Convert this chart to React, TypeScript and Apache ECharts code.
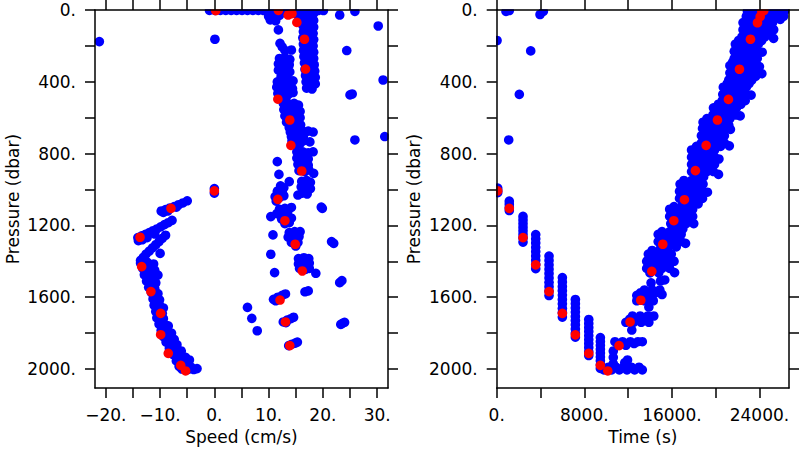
import React, { useEffect, useRef } from 'react';
import * as echarts from 'echarts';

// ---------- axis ticks / labels ----------
const speedTicks = [-20, -15, -10, -5, 0, 5, 10, 15, 20, 25, 30];
const speedLabels = [-20, -10, 0, 10, 20, 30];
const timeTicks = [0, 4000, 8000, 12000, 16000, 20000, 24000];
const timeLabels = [0, 8000, 16000, 24000];
const pressureTicks = [0, 200, 400, 600, 800, 1000, 1200, 1400, 1600, 1800, 2000];
const pressureLabels = [0, 400, 800, 1200, 1600, 2000];

// ---------- left panel: [speed (cm/s), pressure (dbar)] ----------
const speedSurface = [
  [-0.9, 2], [0.1, 2], [1.1, 2], [2.1, 2], [3.1, 2], [4.1, 2], [5.1, 2], [6.1, 2], [7.1, 2], [8.1, 2],
  [9.1, 3], [10.1, 3], [11.1, 4], [12.1, 3], [13.1, 4], [14.1, 3], [15.1, 4], [16.1, 3], [17.1, 3],
  [18.1, 4], [19.1, 3], [20.1, 3], [23.1, 28], [25.9, 8],
];
const speedAscentUpperLeft = [
  [10, 35], [11, 32], [12, 30], [10.3, 55], [11.3, 60], [11.8, 111], [12.1, 186], [12.5, 205], [13, 225], [14.2, 223],
  [12, 270], [13, 265], [13.9, 275], [11.8, 300], [12.8, 302], [13.8, 305], [11.8, 335], [12.9, 340], [13.9, 345],
  [12.3, 370], [13.4, 372],
  [11.6, 400], [12.6, 400], [13.6, 398], [14.5, 395], [11.5, 430], [12.5, 432], [13.5, 430], [14.4, 438],
  [11.7, 465], [12.7, 465], [13.7, 468], [14.5, 460], [12, 490], [13.2, 492],
  [12.7, 520], [13.7, 525], [14.7, 520], [15.5, 530], [12.8, 555], [13.8, 560], [14.8, 555], [15.8, 565],
  [13, 590], [14, 595], [15, 590], [15.8, 600], [13.3, 625], [14.3, 630], [15.2, 625], [15.9, 640],
  [13.8, 655], [14.8, 660], [15.7, 662],
];
const speedAscentUpperRight = [
  [14.5, 12], [15.8, 12], [17, 15], [18.3, 18], [15.5, 35], [16.8, 38], [18, 42], [16, 60], [17.2, 62], [18.3, 58],
  [16.3, 85], [17.4, 90], [18.3, 95], [16.4, 120], [17.3, 125], [18.2, 130], [16.3, 155], [17.4, 160], [18.3, 165],
  [16.4, 190], [17.3, 195], [18.2, 200], [16.4, 225], [17.4, 230], [18.3, 235], [16.5, 260], [17.4, 265], [18.3, 270],
  [16.6, 295], [17.5, 300], [18.4, 305], [16.7, 330], [17.6, 335], [18.5, 340], [16.8, 365], [17.7, 370], [18.6, 375],
  [16.9, 400], [17.8, 405], [18.6, 412], [17, 435], [18, 440],
];
const speedAscentMid = [
  [14, 680], [15.1, 675], [16.2, 672], [17.3, 675], [18.2, 680], [14.2, 705], [15.3, 705], [16.4, 705],
  [14.3, 730], [15.4, 735], [16.5, 728], [14.8, 750], [15.8, 745], [17.6, 735], [18.2, 790],
  [15.2, 790], [16.3, 790], [17.3, 795], [15.2, 825], [16.3, 825], [17.3, 830], [15.4, 860], [16.4, 860], [17.3, 865],
  [15.6, 895], [16.7, 900], [17.4, 890], [18.3, 910],
  [16.1, 955], [17, 950], [17.7, 960], [16, 985], [17, 990], [17.7, 995], [16.2, 1020], [17.1, 1025],
  [12.2, 980], [12.8, 990], [11.6, 1010], [12.5, 1012], [11.2, 1040], [12, 1045], [12.8, 1035], [11.4, 1065],
  [12, 1110], [13, 1105], [14.2, 1100], [11.5, 1135], [12.5, 1135], [13.5, 1130], [12.4, 1165], [13.5, 1165],
  [14.2, 1160], [13, 1190], [13.8, 1185],
  [13.8, 1240], [14.8, 1235], [15.8, 1235], [13.6, 1265], [14.6, 1265], [15.6, 1262], [14.2, 1295], [15.4, 1295], [15, 1315],
];
const speedAscentLower = [
  [15.5, 1385], [16.5, 1380], [17.4, 1385], [15.5, 1415], [16.5, 1415], [17.5, 1410], [15.7, 1440], [16.8, 1445], [17.5, 1440],
  [16.7, 1570], [17.3, 1565],
  [10.9, 1612], [11.7, 1600], [12.5, 1590], [13.1, 1582], [11.3, 1620],
  [12.7, 1738], [13.4, 1728], [14.1, 1720], [14.6, 1712], [13.2, 1742],
  [13.7, 1870], [14.3, 1862], [14.9, 1856], [15.3, 1850],
];
const speedDescent = [
  [-9.8, 1120], [-9, 1112], [-8.2, 1103], [-7.4, 1095], [-6.6, 1085], [-5.8, 1075], [-5, 1063], [-9.4, 1128], [-8.6, 1120], [-7, 1098],
  [-14.1, 1268], [-13.4, 1258], [-12.7, 1250], [-12, 1240], [-11.3, 1230], [-10.6, 1220], [-9.9, 1208], [-9.2, 1196],
  [-8.5, 1185], [-7.8, 1172], [-14, 1285], [-13.3, 1280], [-12.4, 1268], [-11, 1248],
  [-9, 1255], [-9.6, 1272], [-10.2, 1290], [-10.8, 1308], [-11.4, 1325], [-12, 1343], [-12.6, 1360], [-13.1, 1378], [-13.6, 1395],
  [-10, 1356],
  [-13.6, 1410], [-12.4, 1405], [-11.2, 1415], [-13.2, 1440], [-12, 1445], [-11, 1450], [-12.9, 1475], [-11.9, 1480], [-11, 1485],
  [-10.4, 1477], [-12.5, 1510], [-11.5, 1515], [-10.8, 1520], [-12.1, 1545], [-11, 1550], [-11.6, 1575], [-10.4, 1580],
  [-11.3, 1610], [-10.1, 1615], [-11.1, 1645], [-10, 1650], [-9.4, 1660], [-10.8, 1680], [-9.6, 1690], [-10.6, 1715], [-9.4, 1720],
  [-10.2, 1750], [-9.1, 1755], [-8.5, 1760], [-9.8, 1785], [-8.7, 1790], [-7.9, 1800], [-9.4, 1820], [-8.3, 1825], [-7.4, 1835],
  [-8.9, 1850], [-7.8, 1860], [-6.9, 1865], [-8.3, 1885], [-7.2, 1890], [-6.1, 1900], [-7.6, 1920], [-6.5, 1925], [-5.3, 1935],
  [-4.6, 1950], [-7, 1955], [-5.8, 1960], [-6.5, 1985], [-5.4, 1990], [-4.3, 1990], [-3.2, 1998], [-6, 2000], [-4.8, 2002], [-3.8, 2003],
];
const speedOutliers = [
  [-21.2, 176], [0.1, 163], [0, 995], [0, 1020], [24.4, 226], [30.2, 89], [31.1, 390], [25, 473], [25.4, 468],
  [25.9, 724], [31.4, 705], [11.6, 845], [11.9, 916], [13.8, 956], [15.4, 1031], [19.7, 1098], [19.9, 1105],
  [10.4, 1151], [10.8, 1253], [21.6, 1290], [22, 1300], [10.4, 1361], [11.1, 1463], [18.7, 1467], [23.1, 1519], [23.5, 1508],
  [6.1, 1657], [6.9, 1718], [7.9, 1787], [23.3, 1752], [23.6, 1746], [24, 1740],
];
const speedRed = [
  [0.26, 4], [11.8, 2], [13.6, 28], [14.3, 20], [15.2, 69], [16.6, 163], [16.8, 329], [11.7, 497], [13.9, 613],
  [14.1, 754], [16.1, 897], [0, 1008], [11.7, 1055], [-8, 1105], [13, 1174], [-13.7, 1266], [14.9, 1305],
  [-13.4, 1430], [16.2, 1454], [-11.7, 1569], [12.1, 1616], [-9.9, 1690], [13.1, 1738], [-9.9, 1809],
  [13.9, 1870], [-8.5, 1913], [-6.2, 1980], [-5.3, 2011],
];

// ---------- right panel: [time (s), pressure (dbar)] ----------
const timeAscent = [
  [22900, 5], [23600, 5], [24300, 5], [25000, 5], [25700, 5], [26300, 5],
  [22800, 35], [23500, 35], [24200, 35], [24900, 35], [25600, 35], [26200, 35],
  [22500, 70], [23200, 70], [23900, 70], [24600, 70], [25200, 70],
  [22500, 110], [23200, 110], [23900, 110], [24600, 110], [25300, 110],
  [22400, 150], [23100, 150], [23800, 150], [24500, 150], [25290, 158],
  [21800, 190], [22500, 190], [23200, 190], [23900, 190],
  [21700, 230], [22400, 230], [23100, 230], [23800, 230], [24250, 235],
  [21700, 270], [22400, 270], [23100, 270], [23800, 270],
  [21300, 310], [22000, 310], [22700, 310], [23400, 310], [24000, 315],
  [21300, 350], [22000, 350], [22700, 350], [23400, 350], [24220, 355],
  [21200, 390], [21900, 390], [22600, 390], [23300, 390],
  [20700, 430], [21400, 430], [22100, 430], [22800, 430],
  [20650, 470], [21350, 470], [22050, 470], [22750, 470], [23240, 474],
  [20600, 505], [21300, 505], [22000, 505], [22700, 505],
  [19800, 545], [20500, 545], [21200, 545], [21900, 545],
  [19750, 585], [20450, 585], [21150, 585], [21850, 585], [22240, 590],
  [18850, 625], [19550, 625], [20250, 625], [20950, 625],
  [18800, 660], [19500, 660], [20200, 660], [20900, 660], [21350, 665],
  [18700, 700], [19400, 700], [20100, 700], [20800, 700],
  [18700, 740], [19400, 740], [20100, 740], [20800, 740], [21250, 757],
  [17800, 780], [18500, 780], [19200, 780], [19900, 780],
  [17800, 820], [18500, 820], [19200, 820], [19900, 820], [20300, 830],
  [17800, 860], [18500, 860], [19200, 860], [19900, 860],
  [17800, 900], [18500, 900], [19200, 900], [19800, 900],
  [18200, 930], [18900, 930], [20260, 916],
  [16750, 970], [17450, 970], [18150, 970], [18850, 970],
  [16700, 1010], [17400, 1010], [18100, 1010], [18800, 1010], [19250, 1015],
  [16700, 1050], [17400, 1050], [18100, 1050], [18800, 1050],
  [17000, 1080], [17700, 1080], [18400, 1080],
  [15800, 1110], [16500, 1110], [17200, 1110], [17900, 1110],
  [15800, 1150], [16500, 1150], [17200, 1150], [17900, 1150],
  [15900, 1190], [16600, 1190], [17300, 1190], [18000, 1190],
  [16300, 1220], [17000, 1220],
  [14750, 1250], [15450, 1250], [16150, 1250], [16850, 1250],
  [14750, 1290], [15450, 1290], [16150, 1290], [16850, 1290], [17250, 1300],
  [15000, 1320], [15700, 1320], [16400, 1320],
  [13850, 1360], [14550, 1360], [15250, 1360], [15950, 1360],
  [13700, 1400], [14400, 1400], [15100, 1400], [15800, 1400], [16200, 1400],
  [13700, 1440], [14400, 1440], [15100, 1440], [15800, 1440],
  [14000, 1465], [14800, 1465], [16250, 1463],
  [15350, 1504], [14100, 1520], [14960, 1510],
  [13500, 1560], [14200, 1560], [14900, 1560],
  [12800, 1590], [13500, 1590], [14200, 1590], [15100, 1585],
  [12800, 1620], [13500, 1620], [14300, 1620],
  [13900, 1655],
  [12400, 1705], [13100, 1705], [13800, 1705], [14350, 1705],
  [11800, 1740], [12500, 1740], [13200, 1740], [13900, 1740],
  [12340, 1783],
  [10800, 1848], [11500, 1848], [12200, 1848], [12900, 1848], [13300, 1848],
  [11100, 1868], [11800, 1868],
  [10650, 1900], [10650, 1935], [10650, 1970], [11950, 1950], [11700, 1965],
  [9500, 1990], [10200, 1990], [10900, 1990], [11600, 1990], [12300, 1990], [13000, 1990],
  [9800, 2005], [10500, 2005], [11200, 2005], [11900, 2005], [12600, 2005], [13300, 2005],
];
// in-between readings that fill the ascent band
const timeAscentFill = [
  [23250, 20], [23950, 20], [24650, 20], [25350, 20], [26000, 20],
  [23150, 52], [23850, 52], [24550, 52], [25250, 52], [25900, 52],
  [22850, 90], [23550, 90], [24250, 90], [24950, 90],
  [22800, 130], [23500, 130], [24200, 130], [24900, 130],
  [22100, 170], [22800, 170], [23500, 170], [24200, 170],
  [22050, 210], [22750, 210], [23450, 210],
  [22050, 250], [22750, 250], [23450, 250],
  [21550, 290], [22250, 290], [22950, 290], [23650, 290],
  [21650, 330], [22350, 330], [23050, 330], [23750, 330],
  [21550, 370], [22250, 370], [22950, 370], [23650, 370],
  [21050, 410], [21750, 410], [22450, 410], [23050, 410],
  [21050, 450], [21750, 450], [22450, 450],
  [20950, 488], [21650, 488], [22350, 488],
  [20250, 525], [20950, 525], [21650, 525], [22300, 525],
  [20150, 565], [20850, 565], [21550, 565],
  [19200, 605], [19900, 605], [20600, 605], [21300, 605],
  [19200, 642], [19900, 642], [20600, 642], [21200, 642],
  [19150, 680], [19850, 680], [20550, 680],
  [19050, 720], [19750, 720], [20450, 720],
  [18250, 760], [19050, 760], [19750, 760], [20450, 760],
  [18150, 800], [18850, 800], [19550, 800],
  [18150, 840], [18850, 840], [19550, 840],
  [18150, 880], [18850, 880], [19550, 880],
  [17100, 950], [17800, 950], [18500, 950],
  [17100, 990], [17800, 990], [18500, 990],
  [17050, 1030], [17750, 1030], [18450, 1030],
  [16200, 1095], [16900, 1095], [17600, 1095],
  [16150, 1130], [16850, 1130], [17550, 1130],
  [16150, 1170], [16850, 1170], [17550, 1170],
  [15100, 1235], [15800, 1235], [16500, 1235],
  [15100, 1270], [15800, 1270], [16500, 1270],
  [14200, 1340], [14900, 1340], [15600, 1340],
  [14200, 1380], [14900, 1380], [15600, 1380],
  [14050, 1420], [14750, 1420], [15450, 1420],
  [13150, 1575], [13850, 1575], [14550, 1575],
  [13150, 1605], [13850, 1605],
  [12150, 1722], [12850, 1722], [13550, 1722],
  [12550, 1858],
];
const timeDescent = [
  [91, 992], [91, 1005], [91, 1018],
  [1150, 1065], [1150, 1082], [1150, 1100], [1150, 1117],
  [2404, 1150], [2404, 1170], [2404, 1190], [2404, 1210], [2404, 1230], [2404, 1250], [2404, 1270], [2404, 1293],
  [3565, 1251], [3565, 1275], [3565, 1298], [3565, 1322], [3565, 1346], [3565, 1370], [3565, 1394], [3565, 1418], [3565, 1441],
  [4780, 1371], [4780, 1395], [4780, 1420], [4780, 1444], [4780, 1468], [4780, 1493], [4780, 1517], [4780, 1542], [4780, 1566], [4780, 1591],
  [5998, 1491], [5998, 1515], [5998, 1540], [5998, 1564], [5998, 1588], [5998, 1613], [5998, 1637], [5998, 1662], [5998, 1686], [5998, 1711],
  [7186, 1613], [7186, 1636], [7186, 1660], [7186, 1683], [7186, 1707], [7186, 1730], [7186, 1753], [7186, 1777], [7186, 1800], [7186, 1823],
  [8409, 1724], [8409, 1746], [8409, 1769], [8409, 1791], [8409, 1814], [8409, 1836], [8409, 1858], [8409, 1880], [8409, 1903], [8409, 1925],
  [9470, 1825], [9470, 1847], [9470, 1868], [9470, 1890], [9470, 1911], [9470, 1933], [9470, 1954], [9470, 1976], [9470, 1997],
];
const timeOutliers = [
  [850, 8], [1150, 3], [3958, 25], [4260, 8], [30, 170], [3107, 228], [2066, 470], [1097, 724],
];
const timeRed = [
  [24400, 3], [24221, 9], [24066, 37], [23820, 71], [23180, 163], [22175, 330], [21170, 498], [20163, 613],
  [19130, 754], [18150, 895], [17147, 1057], [16178, 1174], [15172, 1305], [14167, 1456], [13160, 1617],
  [12184, 1738], [11178, 1870], [10145, 2011], [9470, 1980], [8409, 1913], [7186, 1810], [5998, 1690],
  [4780, 1569], [3565, 1420], [2404, 1268], [1150, 1105], [91, 1008],
];

const FONT = 'DejaVu Sans, Verdana, sans-serif';
const fmt = (v: number) => (v < 0 ? '\u2212' + Math.abs(v) : String(v)) + '.';

function buildOption() {
  const line = { color: '#000', width: 1.5 };
  const labelStyle = { color: '#000', fontSize: 17, fontFamily: FONT };
  const nameStyle = { color: '#000', fontSize: 17, fontFamily: FONT };

  const xAx = (grid: number, pos: 'top' | 'bottom', min: number, max: number, ticks: number[], labels: number[] | null, name: string) => ({
    type: 'value', gridIndex: grid, position: pos, min, max, z: 10,
    axisLine: { show: true, onZero: false, lineStyle: line },
    axisTick: { show: true, inside: false, length: 10, lineStyle: line, customValues: ticks },
    axisLabel: labels
      ? { show: true, customValues: labels, formatter: fmt, margin: 18, ...labelStyle }
      : { show: false },
    splitLine: { show: false },
    name, nameLocation: 'middle', nameGap: 40, nameTextStyle: nameStyle, nameMoveOverlap: false,
  });
  const yAx = (grid: number, pos: 'left' | 'right', showLabels: boolean) => ({
    type: 'value', gridIndex: grid, position: pos, min: 0, max: 2106, inverse: true, z: 10,
    axisLine: { show: true, onZero: false, lineStyle: line },
    axisTick: { show: true, inside: false, length: 10, lineStyle: line, customValues: pressureTicks },
    axisLabel: showLabels
      ? { show: true, customValues: pressureLabels, formatter: fmt, margin: 19, ...labelStyle }
      : { show: false },
    splitLine: { show: false },
    name: showLabels ? 'Pressure (dbar)' : '', nameLocation: 'middle', nameGap: 74, nameTextStyle: nameStyle,
    nameMoveOverlap: false,
  });

  const scatter = (x: number, y: number, data: number[][], color: string, z: number) => ({
    type: 'scatter', xAxisIndex: x, yAxisIndex: y, data, symbol: 'circle', symbolSize: 9.6,
    itemStyle: { color, opacity: 1 }, silent: true, z, emphasis: { disabled: true },
  });

  const leftBlue = [
    ...speedSurface, ...speedAscentUpperLeft, ...speedAscentUpperRight, ...speedAscentMid,
    ...speedAscentLower, ...speedDescent, ...speedOutliers,
  ];
  const rightBlue = [...timeAscent, ...timeAscentFill, ...timeDescent, ...timeOutliers];

  const mask = (x: number, y: number, w: number, h: number) => ({
    type: 'rect', shape: { x, y, width: w, height: h }, style: { fill: '#fff' }, z: 5, silent: true,
  });

  return {
    animation: false,
    backgroundColor: '#fff',
    grid: [
      { left: 95, top: 10, width: 293, height: 378, containLabel: false, outerBoundsMode: 'none' },
      { left: 496.7, top: 10, width: 292.3, height: 378, containLabel: false, outerBoundsMode: 'none' },
    ],
    xAxis: [
      xAx(0, 'bottom', -22, 32, speedTicks, speedLabels, 'Speed (cm/s)'),
      xAx(0, 'top', -22, 32, speedTicks, null, ''),
      xAx(1, 'bottom', 0, 26700, timeTicks, timeLabels, 'Time (s)'),
      xAx(1, 'top', 0, 26700, timeTicks, null, ''),
    ],
    yAxis: [yAx(0, 'left', true), yAx(0, 'right', false), yAx(1, 'left', true), yAx(1, 'right', false)],
    series: [
      scatter(0, 0, leftBlue, '#0000ff', 2),
      scatter(0, 0, speedRed, '#ff0000', 3),
      scatter(2, 2, rightBlue, '#0000ff', 2),
      scatter(2, 2, timeRed, '#ff0000', 3),
    ],
    graphic: {
      elements: [
        mask(0, 0, 800, 9.3),
        mask(0, 0, 94.3, 450),
        mask(388.7, 0, 107.3, 450),
        mask(789.7, 0, 10.3, 450),
        mask(0, 388.7, 800, 61.3),
      ],
    },
  };
}

export default function App() {
  const ref = useRef<HTMLDivElement>(null);
  useEffect(() => {
    if (!ref.current) return;
    const chart = echarts.init(ref.current, null, { renderer: 'svg', width: 800, height: 450 });
    chart.setOption(buildOption() as any);
    return () => chart.dispose();
  }, []);
  return (
    <div
      ref={ref}
      style={{ position: 'fixed', left: 0, top: 0, width: 800, height: 450, background: '#fff' }}
    />
  );
}
